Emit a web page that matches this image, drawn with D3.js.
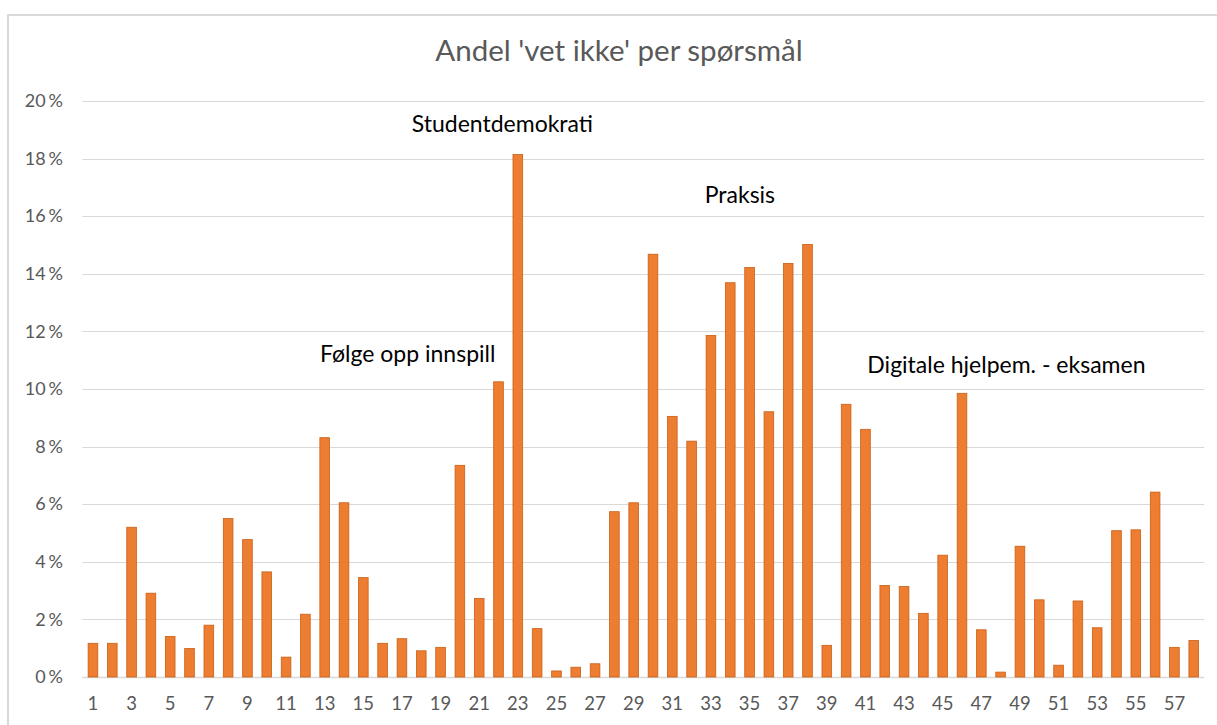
<!doctype html>
<html>
<head>
<meta charset="utf-8"/>
<title>Andel 'vet ikke' per spørsmål</title>
<script src="https://d3js.org/d3.v7.min.js"></script>
<style>
  body { margin: 0; background: #fff; }
  text { font-family: Lato, "Open Sans", sans-serif; }
</style>
</head>
<body>
<div id="chart"></div>
<script>
// spørsmål 1..58
var sporsmal = d3.range(1, 59);

// andel 'vet ikke' i prosent
var andel = [
  1.17, 1.17, 5.20, 2.91, 1.41, 0.99, 1.80, 5.50, 4.77, 3.65,
  0.69, 2.18, 8.31, 6.05, 3.45, 1.17, 1.33, 0.91, 1.03, 7.35,
  2.73, 10.25, 18.14, 1.68, 0.21, 0.34, 0.46, 5.74, 6.05, 14.68,
  9.05, 8.19, 11.86, 13.69, 14.22, 9.21, 14.36, 15.02, 1.10, 9.47,
  8.60, 3.18, 3.14, 2.21, 4.23, 9.85, 1.64, 0.17, 4.54, 2.68,
  0.41, 2.64, 1.71, 5.08, 5.11, 6.42, 1.03, 1.27
];

var yTicks = [0, 2, 4, 6, 8, 10, 12, 14, 16, 18, 20];

// tekstbokser: tekst, spørsmål (senter) og nivå (%)
var merkTekst = ["Studentdemokrati", "Praksis", "Følge opp innspill", "Digitale hjelpem. - eksamen"];
var merkSporsmal = [22.2, 34.5, 17.3, 48.3];
var merkNivaa = [18.92, 16.47, 10.94, 10.56];

var W = 1217, H = 725;
var plotV = 83.3, plotH = 1203.4, plotTopp = 101, plotBunn = 677;

var svg = d3.select("#chart").append("svg")
  .attr("width", W)
  .attr("height", H);

// ramme rundt diagrammet
svg.append("rect")
  .attr("x", 8).attr("y", 15)
  .attr("width", 1400).attr("height", 900)
  .attr("fill", "#fff")
  .attr("stroke", "#d9d9d9")
  .attr("stroke-width", 2);

var x = d3.scaleBand()
  .domain(sporsmal)
  .range([plotV, plotH])
  .paddingInner(0.5)
  .paddingOuter(0.25);

var y = d3.scaleLinear()
  .domain([0, 20])
  .range([plotBunn, plotTopp]);

// rutenett
svg.append("g")
  .selectAll("line")
  .data(yTicks)
  .join("line")
  .attr("x1", plotV - 1)
  .attr("x2", plotH + 1)
  .attr("y1", d => Math.round(y(d)) + 0.5)
  .attr("y2", d => Math.round(y(d)) + 0.5)
  .attr("stroke", "#d9d9d9")
  .attr("stroke-width", d => d === 0 ? 1.5 : 1);

// y-akse
var yAxis = svg.append("g")
  .attr("transform", "translate(63,0)")
  .call(d3.axisLeft(y).tickValues(yTicks).tickSize(0).tickPadding(0)
    .tickFormat(d => d + "\u2006%"));
yAxis.select(".domain").remove();
yAxis.selectAll("text")
  .attr("fill", "#595959")
  .style("font-size", "18px");

// x-akse
var xAxis = svg.append("g")
  .attr("transform", "translate(0," + plotBunn + ")")
  .call(d3.axisBottom(x).tickSize(0).tickPadding(20)
    .tickFormat(d => d % 2 === 1 ? d : ""));
xAxis.select(".domain").remove();
xAxis.selectAll("text")
  .attr("fill", "#595959")
  .style("font-size", "18.5px");

// søyler
svg.append("g")
  .selectAll("rect")
  .data(andel)
  .join("rect")
  .attr("x", (d, i) => x(sporsmal[i]))
  .attr("y", d => y(d))
  .attr("width", x.bandwidth())
  .attr("height", d => y(0) - y(d))
  .attr("fill", "#ED7D31")
  .attr("stroke", "#C95F16")
  .attr("stroke-width", 0.8);

// tittel
svg.append("text")
  .attr("x", 619)
  .attr("y", 61)
  .attr("text-anchor", "middle")
  .attr("fill", "#595959")
  .style("font-size", "29.5px")
  .text("Andel 'vet ikke' per spørsmål");

// tekstbokser
var step = x.step();
var xc = q => x(1) + x.bandwidth() / 2 + (q - 1) * step;
svg.append("g")
  .selectAll("text")
  .data(merkTekst)
  .join("text")
  .attr("x", (d, i) => xc(merkSporsmal[i]))
  .attr("y", (d, i) => y(merkNivaa[i]))
  .attr("text-anchor", "middle")
  .attr("fill", "#000")
  .style("font-size", "23px")
  .text(d => d);
</script>
</body>
</html>
